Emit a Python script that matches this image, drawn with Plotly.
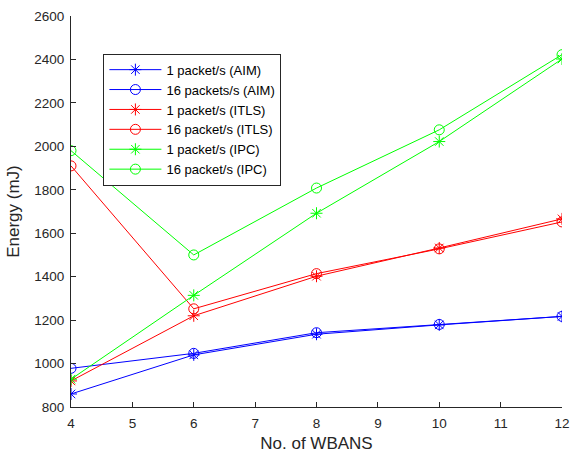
import plotly.graph_objects as go

wbans = [4, 6, 8, 10, 12]
aim_1 = [860, 1040, 1135, 1178, 1217]
aim_16 = [978, 1047, 1142, 1180, 1217]
itls_1 = [920, 1220, 1402, 1532, 1666]
itls_16 = [1910, 1252, 1414, 1528, 1652]
ipc_1 = [928, 1314, 1692, 2022, 2402]
ipc_16 = [1980, 1500, 1808, 2076, 2422]

series = [
    ("1 packet/s (AIM)", aim_1, "#0000FF", "asterisk-open"),
    ("16 packets/s (AIM)", aim_16, "#0000FF", "circle-open"),
    ("1 packet/s (ITLS)", itls_1, "#FF0000", "asterisk-open"),
    ("16 packet/s (ITLS)", itls_16, "#FF0000", "circle-open"),
    ("1 packet/s (IPC)", ipc_1, "#00FF00", "asterisk-open"),
    ("16 packet/s (IPC)", ipc_16, "#00FF00", "circle-open"),
]

fig = go.Figure()
for name, ys, color, sym in series:
    fig.add_trace(go.Scatter(
        x=wbans, y=ys, name=name, mode="lines+markers",
        line=dict(color=color, width=1),
        marker=dict(symbol=sym, size=10, color=color, line=dict(color=color, width=1)),
    ))

axis_common = dict(
    showline=True, linecolor="#262626", linewidth=1,
    ticks="inside", ticklen=5, tickcolor="#262626",
    showgrid=False, zeroline=False, mirror=False,
    tickfont=dict(family="Liberation Sans, Arial", size=13.5, color="#262626"),
)

fig.update_layout(
    width=579, height=458,
    margin=dict(l=71, r=9, t=13, b=51),
    paper_bgcolor="white", plot_bgcolor="white",
    font=dict(family="Liberation Sans, Arial", color="#262626"),
    xaxis=dict(range=[4, 12], dtick=1, ticklabelstandoff=4,
               title=dict(text="No. of WBANS", font=dict(size=17), standoff=6),
               **axis_common),
    yaxis=dict(range=[800, 2600], dtick=200, ticklabelstandoff=3,
               title=dict(text="Energy (mJ)", font=dict(size=17), standoff=10),
               **axis_common),
    legend=dict(x=0.066, y=0.9036, xanchor="left", yanchor="top",
                bgcolor="white", bordercolor="#262626", borderwidth=1,
                font=dict(size=13, color="#000000"),
                itemwidth=52, tracegroupgap=0),
    showlegend=True,
)

fig.write_html("out.html")
